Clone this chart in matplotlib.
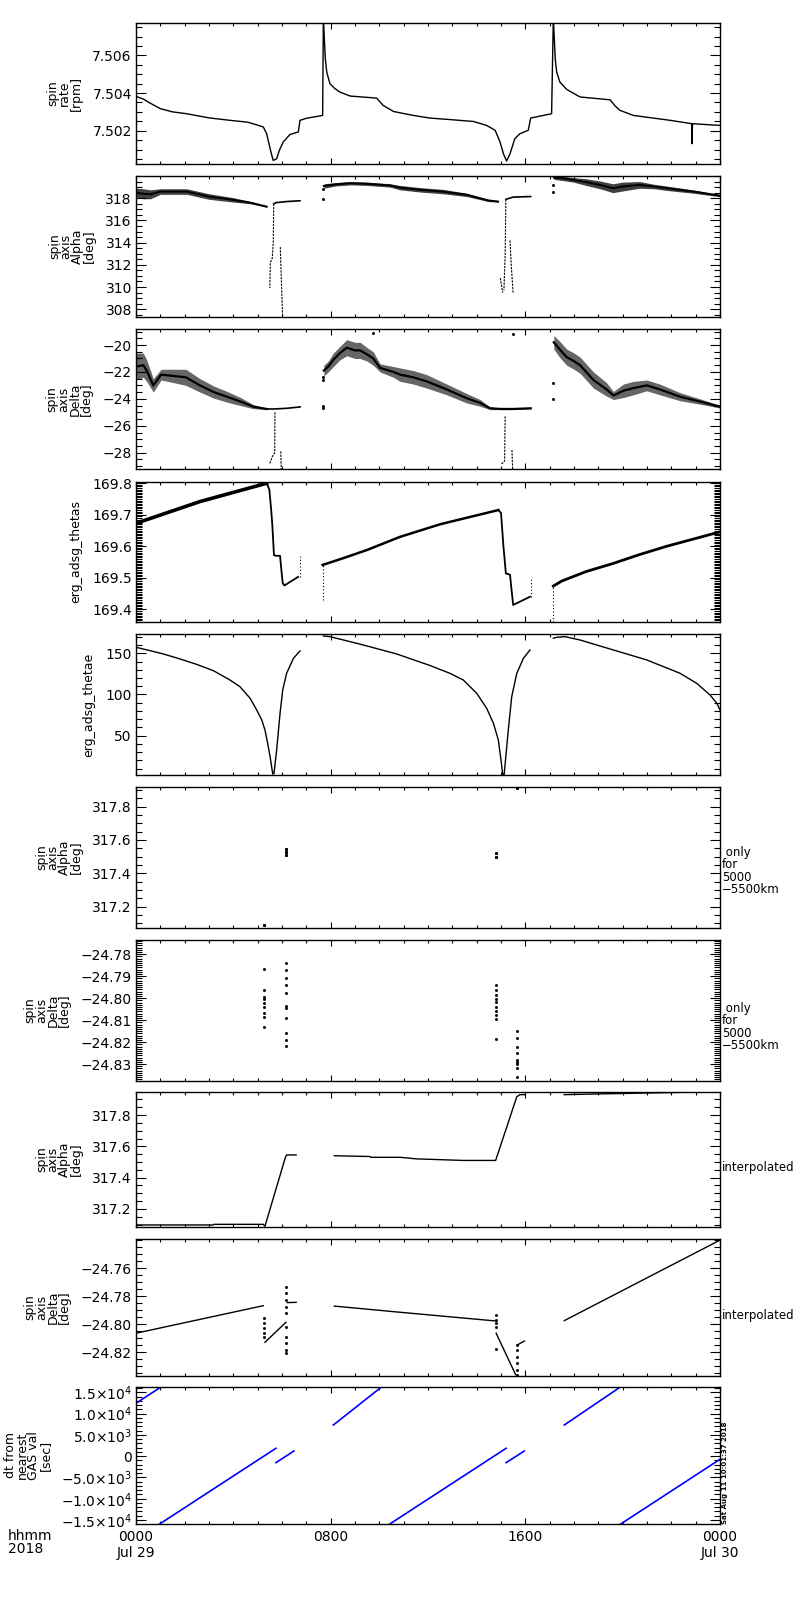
import matplotlib
matplotlib.use('Agg')
import matplotlib.pyplot as plt
import numpy as np
from matplotlib.ticker import FixedLocator, MultipleLocator

# ---------------- data (time in hours from 2018-07-29 00:00) ----------------
# Panel 1: spin rate [rpm]
p1_t = [0.0, 0.3, 0.6, 1.0, 1.5, 2.08, 3.0, 3.86, 4.6, 5.23, 5.37, 5.48, 5.58, 5.64, 5.78,
        5.89, 6.05, 6.33, 6.67, 6.74, 7.01, 7.67, 7.70, 7.74, 7.78, 7.84, 7.97, 8.18, 8.38,
        8.8, 9.89, 10.16, 10.58, 11.4, 12.08, 13.0, 13.86, 14.41, 14.76, 14.96, 15.1, 15.23,
        15.37, 15.57, 15.78, 16.12, 16.22, 16.7, 17.08, 17.15, 17.19, 17.23, 17.29, 17.42,
        17.7, 18.25, 19.48, 19.7, 19.89, 20.44, 21.95, 22.84, 22.85, 22.87, 24.0]
p1_v = [7.50382, 7.50368, 7.50345, 7.50317, 7.50300, 7.50290, 7.50268, 7.50255, 7.50245,
        7.50220, 7.50184, 7.50122, 7.50069, 7.50042, 7.50051, 7.50095, 7.50140, 7.50180,
        7.50193, 7.50255, 7.50266, 7.50281, 7.50800, 7.50688, 7.50582, 7.50511, 7.50449,
        7.50423, 7.50405, 7.50384, 7.50373, 7.50334, 7.50302, 7.50281, 7.50267, 7.50258,
        7.50249, 7.50228, 7.50202, 7.50140, 7.50077, 7.50039, 7.50077, 7.50158, 7.50184,
        7.50202, 7.50267, 7.50280, 7.50290, 7.50800, 7.50690, 7.50580, 7.50510, 7.50458,
        7.50419, 7.50379, 7.50364, 7.50330, 7.50308, 7.50281, 7.50255, 7.50237, 7.50131,
        7.50237, 7.50228]

# Panel 2: spin axis alpha [deg]  (centre of noisy band and band half-width)
p2a_t = [0.0, 0.3, 0.6, 1.0, 2.08, 3.0, 4.0, 4.7, 5.37]
p2a_c = [318.5, 318.4, 318.35, 318.6, 318.6, 318.15, 317.85, 317.6, 317.24]
p2a_w = [0.4, 0.45, 0.4, 0.25, 0.25, 0.25, 0.2, 0.1, 0.05]
p2a_plat_t = [5.66, 5.75, 6.2, 6.74]
p2a_plat_v = [317.5, 317.6, 317.7, 317.77]
p2a_drop1_t = [5.66, 5.64, 5.60, 5.52, 5.50]
p2a_drop1_v = [317.5, 314.0, 312.6, 312.2, 309.9]
p2a_drop2_t = [5.93, 5.96, 6.0, 6.03]
p2a_drop2_v = [313.6, 311.5, 309.0, 307.0]
p2b_t = [7.72, 8.2, 8.8, 9.5, 10.44, 10.85, 11.7, 12.6, 13.6, 14.47, 14.88]
p2b_c = [319.1, 319.25, 319.35, 319.3, 319.15, 318.95, 318.75, 318.6, 318.3, 317.8, 317.7]
p2b_w = [0.2, 0.15, 0.15, 0.15, 0.15, 0.2, 0.2, 0.2, 0.15, 0.1, 0.05]
p2b_plat_t = [15.2, 15.5, 16.22]
p2b_plat_v = [317.9, 318.1, 318.15]
p2b_drop1_t = [15.2, 15.17, 15.12]
p2b_drop1_v = [317.9, 312.8, 309.7]
p2b_drop2_t = [14.97, 15.07]
p2b_drop2_v = [310.8, 309.5]
p2b_drop3_t = [15.37, 15.42, 15.5]
p2b_drop3_v = [314.2, 312.0, 309.4]
p2c_t = [17.17, 17.5, 17.97, 18.5, 19.07, 19.6, 20.0, 20.7, 21.3, 21.8, 22.9, 24.0]
p2c_c = [319.85, 319.8, 319.65, 319.45, 319.2, 318.9, 319.05, 319.2, 319.05, 318.9, 318.6, 318.23]
p2c_w = [0.15, 0.2, 0.2, 0.3, 0.35, 0.4, 0.4, 0.3, 0.2, 0.2, 0.15, 0.1]
p2_dot_t = [7.70, 7.70, 17.15, 17.15]
p2_dot_v = [318.8, 317.9, 319.2, 318.6]

# Panel 3: spin axis delta [deg]
p3a_t = [0.0, 0.3, 0.44, 0.71, 1.03, 1.56, 2.05, 2.63, 3.2, 3.73, 4.3, 4.82, 5.37]
p3a_c = [-21.6, -21.5, -21.9, -23.0, -22.2, -22.3, -22.4, -23.0, -23.5, -23.84, -24.2, -24.58, -24.75]
p3a_w = [1.0, 0.9, 0.8, 0.5, 0.4, 0.5, 0.6, 0.5, 0.45, 0.4, 0.3, 0.15, 0.05]
p3a_plat_t = [5.37, 5.7, 6.2, 6.74]
p3a_plat_v = [-24.75, -24.75, -24.7, -24.6]
p3a_drop1_t = [5.71, 5.70, 5.6, 5.5]
p3a_drop1_v = [-25.0, -28.0, -28.3, -28.8]
p3a_drop2_t = [5.95, 5.97]
p3a_drop2_v = [-27.9, -29.3]
p3b_t = [7.72, 7.9, 8.11, 8.38, 8.66, 9.0, 9.21, 9.5, 9.75, 10.03, 10.58, 10.85, 11.4,
         11.95, 12.77, 13.6, 14.14, 14.55, 15.0, 15.5, 16.22]
p3b_c = [-21.9, -21.6, -21.1, -20.6, -20.2, -20.4, -20.4, -20.7, -21.0, -21.7, -22.0, -22.2,
         -22.4, -22.7, -23.3, -23.96, -24.3, -24.7, -24.75, -24.75, -24.7]
p3b_w = [0.4, 0.4, 0.5, 0.5, 0.6, 0.6, 0.6, 0.5, 0.5, 0.3, 0.4, 0.5, 0.5, 0.5, 0.4, 0.35,
         0.25, 0.1, 0.05, 0.05, 0.05]
p3b_drop1_t = [15.17, 15.15, 15.05, 15.0]
p3b_drop1_v = [-25.3, -28.6, -28.8, -28.8]
p3b_drop2_t = [15.45, 15.48]
p3b_drop2_v = [-27.8, -29.3]
p3c_t = [17.17, 17.4, 17.7, 18.0, 18.25, 18.8, 19.34, 19.62, 20.03, 20.44, 20.99, 21.53,
         22.36, 23.18, 24.0]
p3c_c = [-19.8, -20.3, -20.9, -21.2, -21.5, -22.6, -23.3, -23.75, -23.4, -23.2, -23.0,
         -23.3, -23.84, -24.2, -24.58]
p3c_w = [0.5, 0.6, 0.6, 0.6, 0.6, 0.6, 0.5, 0.3, 0.5, 0.5, 0.4, 0.4, 0.3, 0.2, 0.1]
p3_dot_t = [7.70, 7.70, 7.70, 7.70, 17.15, 17.15, 15.5, 9.75]
p3_dot_v = [-22.4, -22.6, -24.5, -24.65, -22.85, -24.03, -19.18, -19.13]

# Panel 4: erg_adsg_thetas
p4a_t = [0.0, 2.63, 5.37, 5.48, 5.55, 5.6, 5.67, 5.75, 5.92, 5.98, 6.03, 6.1, 6.66]
p4a_v = [169.673, 169.742, 169.80, 169.78, 169.72, 169.67, 169.572, 169.57, 169.57,
         169.52, 169.483, 169.476, 169.503]
p4b_t = [7.67, 8.5, 9.48, 10.85, 12.5, 14.89, 15.0, 15.1, 15.2, 15.37, 15.45, 15.5, 16.19]
p4b_v = [169.541, 169.562, 169.588, 169.63, 169.67, 169.715, 169.706, 169.6, 169.514,
         169.51, 169.45, 169.414, 169.44]
p4c_t = [17.15, 17.5, 18.5, 19.62, 20.7, 21.8, 23.0, 24.0]
p4c_v = [169.474, 169.49, 169.52, 169.546, 169.574, 169.6, 169.625, 169.646]
p4_vline_t = [6.74, 7.67, 16.22, 17.15]
p4_vline_lo = [169.503, 169.43, 169.44, 169.36]
p4_vline_hi = [169.57, 169.541, 169.50, 169.474]

# Panel 5: erg_adsg_thetae
p5a_t = [0.0, 0.575, 1.12, 1.81, 2.49, 3.18, 3.86, 4.27, 4.69, 4.96, 5.17, 5.30, 5.41,
         5.51, 5.62, 5.67, 5.78, 5.92, 6.03, 6.19, 6.47, 6.74]
p5a_v = [157.3, 153.2, 149.2, 143.1, 136.6, 128.9, 117.6, 109.5, 95.4, 81.2, 69.0, 56.9,
         40.8, 24.5, 3.5, 4.0, 32.6, 77.2, 105.5, 125.7, 143.9, 152.8]
p5b_t = [7.70, 7.97, 9.34, 10.71, 12.08, 12.9, 13.45, 14.0, 14.41, 14.69, 14.89, 15.0,
         15.07, 15.13, 15.3, 15.44, 15.65, 15.92, 16.19]
p5b_v = [171.0, 170.2, 160.1, 149.2, 135.2, 125.7, 117.6, 101.5, 83.3, 65.0, 44.8, 20.5,
         3.0, 3.0, 56.9, 97.3, 125.7, 143.9, 154.0]
p5c_t = [17.15, 17.29, 17.63, 18.25, 19.62, 20.99, 22.36, 23.04, 23.59, 23.87, 24.0]
p5c_v = [168.2, 169.4, 170.2, 166.1, 154.0, 141.9, 125.7, 113.6, 99.4, 89.3, 81.2]

# Panel 6: spin axis alpha only for 5000-5500 km
p6_t = [5.26, 6.15, 6.16, 6.17, 14.78, 14.78, 15.64]
p6_v = [317.09, 317.51, 317.53, 317.545, 317.50, 317.525, 317.91]

# Panel 7: spin axis delta only for 5000-5500 km
p7_t = [5.27] * 9 + [6.18] * 11 + [14.78] * 10 + [15.64] * 9
p7_v = [-24.7868, -24.7963, -24.7993, -24.8005, -24.8023, -24.8042, -24.8066, -24.8084, -24.813,
        -24.7838, -24.7872, -24.7909, -24.794, -24.7978, -24.8036, -24.8046, -24.8092, -24.816,
        -24.8191, -24.8218,
        -24.794, -24.7963, -24.7986, -24.8002, -24.8016, -24.8039, -24.8057, -24.8077, -24.8096,
        -24.8187,
        -24.8148, -24.8183, -24.8221, -24.8251, -24.8282, -24.829, -24.83, -24.832, -24.8358]

# Panel 8: spin axis alpha interpolated
p8a_t = [0.0, 3.17, 3.2, 5.23, 5.3, 6.14, 6.19, 6.58]
p8a_v = [317.098, 317.098, 317.102, 317.102, 317.09, 317.53, 317.545, 317.545]
p8b_t = [8.15, 9.62, 9.65, 10.85, 11.53, 13.45, 14.78, 15.65, 15.78, 15.99]
p8b_v = [317.54, 317.535, 317.53, 317.53, 317.52, 317.51, 317.51, 317.917, 317.93, 317.93]
p8c_t = [17.6, 19.07, 20.85, 22.5]
p8c_v = [317.93, 317.935, 317.94, 317.945]

# Panel 9: spin axis delta interpolated
p9_seg_t = [[0.0, 5.23], [5.3, 6.16], [6.22, 6.58], [8.15, 10.85, 14.76], [14.8, 15.6],
            [15.67, 15.96], [17.6, 24.0]]
p9_seg_v = [[-24.8064, -24.7867], [-24.8129, -24.7986], [-24.7845, -24.7843],
            [-24.787, -24.7914, -24.7976], [-24.8064, -24.836], [-24.8148, -24.812],
            [-24.7974, -24.7398]]
p9_dot_t = [5.28] * 5 + [6.18] * 10 + [14.78] * 5 + [15.65] * 6
p9_dot_v = [-24.7957, -24.7993, -24.8029, -24.8064, -24.8089,
            -24.7731, -24.7779, -24.7826, -24.7874, -24.7921, -24.8017, -24.8089, -24.8136,
            -24.8184, -24.8207,
            -24.7934, -24.7969, -24.7993, -24.8017, -24.8179,
            -24.8148, -24.8184, -24.8231, -24.8279, -24.8326, -24.8362]

# Panel 10: dt from nearest GAS val [sec]
p10_seg_t = [[0.0, 1.04], [0.97, 5.75], [5.75, 6.49], [8.11, 10.1], [10.43, 15.21],
             [15.21, 15.96], [17.6, 19.92], [19.92, 24.0]]
p10_seg_v = [[12416, 16300], [-15940, 1845], [-1538, 1211], [7319, 16300], [-15940, 1845],
             [-1538, 1211], [7319, 16300], [-15940, -739]]

# axis settings
x_major = [0, 8, 16, 24]
x_labels = ['0000\nJul 29', '0800', '1600', '0000\nJul 30']
ylabels = ['spin\nrate\n[rpm]', 'spin\naxis\nAlpha\n[deg]', 'spin\naxis\nDelta\n[deg]',
           'erg_adsg_thetas', 'erg_adsg_thetae', 'spin\naxis\nAlpha\n[deg]',
           'spin\naxis\nDelta\n[deg]', 'spin\naxis\nAlpha\n[deg]', 'spin\naxis\nDelta\n[deg]',
           'dt from\nnearest\nGAS val\n[sec]']
ylims = [(7.50023, 7.50772), (307.3, 320.0), (-29.21, -18.81), (169.36, 169.804),
         (2.3, 173.4), (317.072, 317.918), (-24.8377, -24.7735), (317.085, 317.947),
         (-24.837, -24.739), (-15940, 16245)]
yticks = [[7.502, 7.504, 7.506], [308, 310, 312, 314, 316, 318], [-28, -26, -24, -22, -20],
          [169.4, 169.5, 169.6, 169.7, 169.8], [50, 100, 150], [317.2, 317.4, 317.6, 317.8],
          [-24.83, -24.82, -24.81, -24.80, -24.79, -24.78], [317.2, 317.4, 317.6, 317.8],
          [-24.82, -24.80, -24.78, -24.76],
          [-15000, -10000, -5000, 0, 5000, 10000, 15000]]
yticklabels = [['7.502', '7.504', '7.506'], ['308', '310', '312', '314', '316', '318'],
               ['\u221228', '\u221226', '\u221224', '\u221222', '\u221220'],
               ['169.4', '169.5', '169.6', '169.7', '169.8'], ['50', '100', '150'],
               ['317.2', '317.4', '317.6', '317.8'],
               ['\u221224.83', '\u221224.82', '\u221224.81', '\u221224.80', '\u221224.79', '\u221224.78'],
               ['317.2', '317.4', '317.6', '317.8'],
               ['\u221224.82', '\u221224.80', '\u221224.78', '\u221224.76'],
               ['\u22121.5$\\times$10$^4$', '\u22121.0$\\times$10$^4$', '\u22125.0$\\times$10$^3$', '0',
                '5.0$\\times$10$^3$', '1.0$\\times$10$^4$', '1.5$\\times$10$^4$']]
yminor = [0.0005, 0.5, 0.5, 0.005, 10, 0.05, 0.001, 0.05, 0.005, 1000]
right_labels = {5: ' only\nfor\n5000\n\u22125500km', 6: ' only\nfor\n5000\n\u22125500km',
                7: 'interpolated', 8: 'interpolated'}

# ---------------- layout ----------------
W, H = 800, 1600
panels_px = [(23, 164), (176, 317), (329, 469), (482, 622), (634, 775), (787, 928),
             (940, 1081), (1092, 1227), (1239, 1376), (1387, 1524)]
right_label_y = {5: 871, 6: 1027, 7: 1168, 8: 1316}
X0, X1 = 136, 720

plt.rcParams['font.family'] = ['DejaVu Sans']
fig = plt.figure(figsize=(8, 16), dpi=100)
fig.patch.set_facecolor('white')

axes = []
for i, (top, bot) in enumerate(panels_px):
    ax = fig.add_axes([X0 / W, 1 - bot / H, (X1 - X0) / W, (bot - top) / H])
    ax.set_xlim(0, 24)
    ax.set_ylim(*ylims[i])
    ax.xaxis.set_major_locator(FixedLocator(x_major))
    ax.xaxis.set_minor_locator(MultipleLocator(1))
    ax.yaxis.set_major_locator(FixedLocator(yticks[i]))
    ax.set_yticklabels(yticklabels[i])
    ax.yaxis.set_minor_locator(MultipleLocator(yminor[i]))
    ax.tick_params(which='both', direction='in', top=True, right=True, colors='black')
    ax.tick_params(axis='x', which='major', length=4, width=0.8)
    ax.tick_params(axis='x', which='minor', length=2, width=0.8)
    ax.tick_params(axis='y', which='major', length=7.5, width=0.8, labelsize=10, pad=3)
    ax.tick_params(axis='y', which='minor', length=4, width=0.8)
    for s in ax.spines.values():
        s.set_linewidth(1.0)
    ax.set_ylabel(ylabels[i], fontsize=9, linespacing=0.85, labelpad=7)
    if i < len(panels_px) - 1:
        ax.set_xticklabels([])
    else:
        ax.set_xticklabels(x_labels)
        ax.tick_params(axis='x', which='major', labelsize=10, pad=4)
    axes.append(ax)

K = 'black'
lw = 0.8

# Panel 1
ax = axes[0]
ax.plot(p1_t, p1_v, color=K, lw=1.0)

# Panel 2
ax = axes[1]
for t, c, w in [(p2a_t, p2a_c, p2a_w), (p2b_t, p2b_c, p2b_w), (p2c_t, p2c_c, p2c_w)]:
    c = np.array(c); w = np.array(w)
    ax.fill_between(t, c - w, c + w, color=K, alpha=0.75, lw=0)
    ax.plot(t, c, color=K, lw=1.4)
for t, v in [(p2a_plat_t, p2a_plat_v), (p2b_plat_t, p2b_plat_v)]:
    ax.plot(t, v, color=K, lw=1.2)
for t, v in [(p2a_drop1_t, p2a_drop1_v), (p2a_drop2_t, p2a_drop2_v), (p2b_drop1_t, p2b_drop1_v),
             (p2b_drop2_t, p2b_drop2_v), (p2b_drop3_t, p2b_drop3_v)]:
    ax.plot(t, v, color=K, lw=lw, ls=(0, (2, 1)))
ax.plot(p2_dot_t, p2_dot_v, ls='none', marker='s', ms=1, color=K)

# Panel 3
ax = axes[2]
for t, c, w in [(p3a_t, p3a_c, p3a_w), (p3b_t, p3b_c, p3b_w), (p3c_t, p3c_c, p3c_w)]:
    c = np.array(c); w = np.array(w)
    ax.fill_between(t, c - w, c + w, color=K, alpha=0.6, lw=0)
    ax.plot(t, c, color=K, lw=1.6)
ax.plot(p3a_plat_t, p3a_plat_v, color=K, lw=1.2)
for t, v in [(p3a_drop1_t, p3a_drop1_v), (p3a_drop2_t, p3a_drop2_v),
             (p3b_drop1_t, p3b_drop1_v), (p3b_drop2_t, p3b_drop2_v)]:
    ax.plot(t, v, color=K, lw=lw, ls=(0, (2, 1)))
ax.plot(p3_dot_t, p3_dot_v, ls='none', marker='s', ms=1, color=K)

# Panel 4
ax = axes[3]
ax.plot(p4a_t[:3], p4a_v[:3], color=K, lw=2.6)
ax.plot(p4a_t[2:], p4a_v[2:], color=K, lw=1.3)
ax.plot(p4b_t[:6], p4b_v[:6], color=K, lw=1.8)
ax.plot(p4b_t[5:], p4b_v[5:], color=K, lw=1.3)
ax.plot(p4c_t, p4c_v, color=K, lw=2.0)
ax.vlines(p4_vline_t, p4_vline_lo, p4_vline_hi, color=K, lw=lw, linestyles=(0, (1, 2)))

# Panel 5
ax = axes[4]
for t, v in [(p5a_t, p5a_v), (p5b_t, p5b_v), (p5c_t, p5c_v)]:
    ax.plot(t, v, color=K, lw=1.0)

# Panel 6
axes[5].plot(p6_t, p6_v, ls='none', marker='s', ms=1.2, color=K)

# Panel 7
axes[6].plot(p7_t, p7_v, ls='none', marker='s', ms=1.0, color=K)

# Panel 8
ax = axes[7]
for t, v in [(p8a_t, p8a_v), (p8b_t, p8b_v), (p8c_t, p8c_v)]:
    ax.plot(t, v, color=K, lw=1.0)

# Panel 9
ax = axes[8]
for t, v in zip(p9_seg_t, p9_seg_v):
    ax.plot(t, v, color=K, lw=1.0)
ax.plot(p9_dot_t, p9_dot_v, ls='none', marker='s', ms=1.0, color=K)

# Panel 10
ax = axes[9]
for t, v in zip(p10_seg_t, p10_seg_v):
    ax.plot(t, v, color='#0000ff', lw=1.2)

# right-hand annotations
for i, txt in right_labels.items():
    fig.text(722 / W, 1 - right_label_y[i] / H, txt, ha='left', va='center',
             fontsize=8.5, linespacing=0.95)

fig.text(8 / W, 1 - 1529 / H, 'hhmm\n2018', ha='left', va='top', fontsize=10, linespacing=0.9)
fig.text(725 / W, 1 - 1524 / H, 'Sat Aug 11 10:01:37 2018', rotation=90, ha='center',
         va='bottom', fontsize=5, fontweight='bold')

fig.savefig('out.png', dpi=100, facecolor='white')
